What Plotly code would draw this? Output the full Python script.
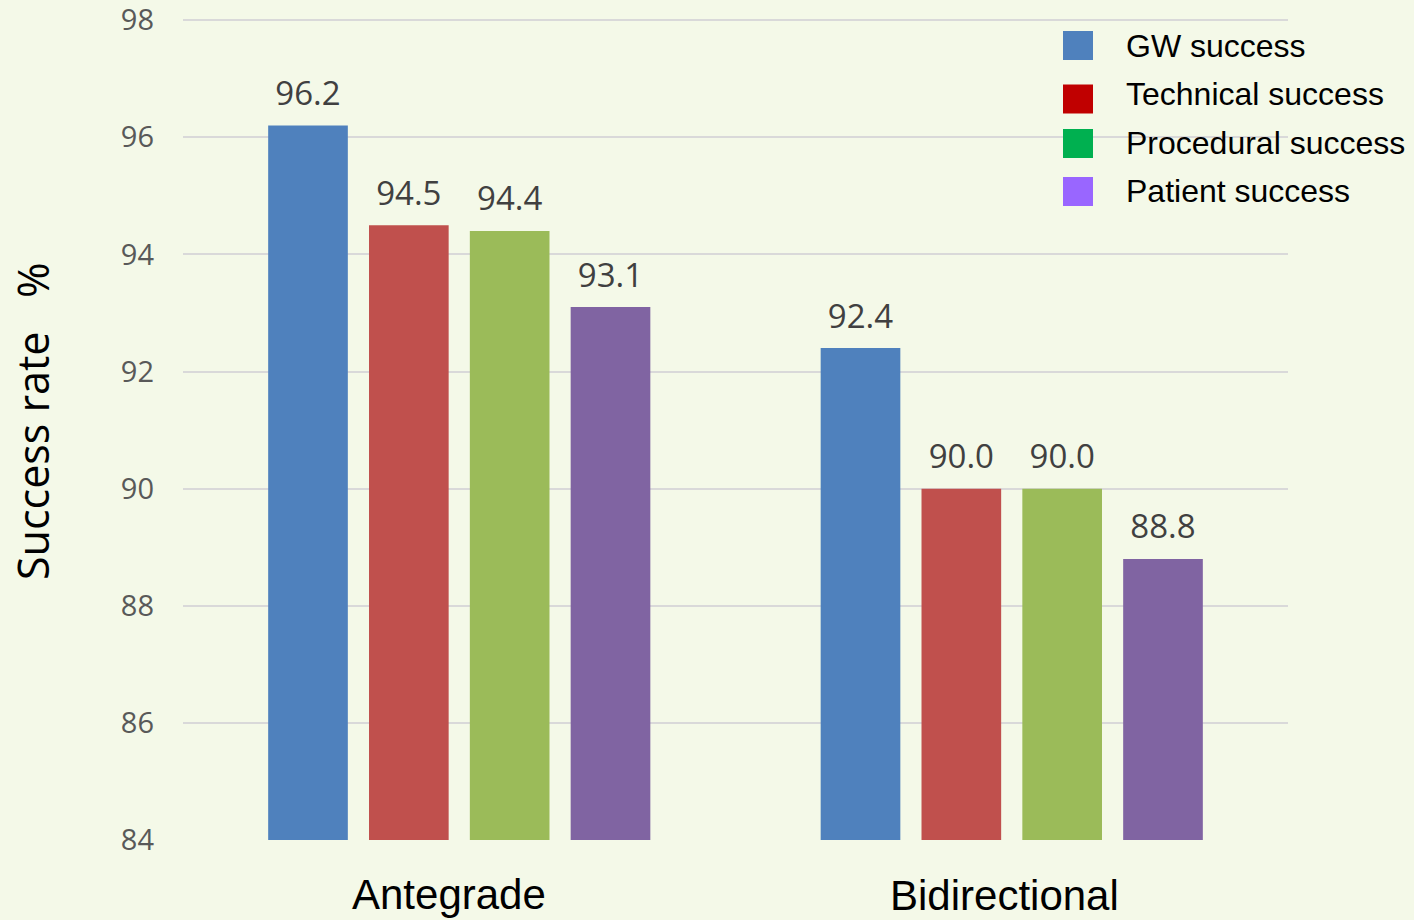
import plotly.graph_objects as go

categories = ["Antegrade", "Bidirectional"]
series_names = ["GW success", "Technical success", "Procedural success", "Patient success"]
gw_success = [96.2, 92.4]
technical_success = [94.5, 90.0]
procedural_success = [94.4, 90.0]
patient_success = [93.1, 88.8]
y_ticks = [84, 86, 88, 90, 92, 94, 96, 98]

bar_colors = ["#4F81BD", "#C0504D", "#9BBB59", "#8064A2"]
legend_colors = ["#4F81BD", "#C00000", "#00B050", "#9966FF"]
series_values = [gw_success, technical_success, procedural_success, patient_success]

W, H = 1414, 920
ML, MR, MT, MB = 183, 126, 19, 80
PW, PH = W - ML - MR, H - MT - MB

fig = go.Figure()
for i, (name, vals, col) in enumerate(zip(series_names, series_values, bar_colors)):
    fig.add_trace(go.Bar(
        x=categories, y=vals, name=name, marker=dict(color=col, line=dict(width=0)),
        offsetgroup=str(i), showlegend=False, hoverinfo="skip",
    ))
for i, (name, vals) in enumerate(zip(series_names, series_values)):
    fig.add_trace(go.Scatter(
        x=categories, y=vals, name=name, mode="markers+text", offsetgroup=str(i),
        marker=dict(size=18, color="rgba(0,0,0,0)"),
        text=[f"{v:.1f}" for v in vals], textposition="top center",
        textfont=dict(family="Open Sans", size=33, color="#404040"),
        cliponaxis=False, showlegend=False,
    ))

shapes = []
annotations = []
legend_y = [45.5, 99, 143.5, 191.5]
text_y = [46, 94, 143, 191]
for i, (name, col) in enumerate(zip(series_names, legend_colors)):
    yc = legend_y[i]
    shapes.append(dict(
        type="rect", xref="paper", yref="paper",
        x0=(1063 - ML) / PW, x1=(1093 - ML) / PW,
        y0=1 - (yc + 14.5 - MT) / PH, y1=1 - (yc - 14.5 - MT) / PH,
        fillcolor=col, line=dict(width=0),
    ))
    annotations.append(dict(
        text=name, xref="paper", yref="paper",
        x=(1124 - ML) / PW, y=1 - (text_y[i] - MT) / PH,
        xanchor="left", yanchor="middle", showarrow=False,
        font=dict(family="Liberation Sans", size=32, color="#000000"),
    ))

cat_y = [894, 896]
cat_shift = [-10, -7]
for i, c in enumerate(categories):
    annotations.append(dict(
        text=c, x=c, xref="x", yref="paper", y=1 - (cat_y[i] - MT) / PH,
        xanchor="center", yanchor="middle", showarrow=False, xshift=cat_shift[i],
        font=dict(family="Liberation Sans", size=42, color="#000000"),
    ))

annotations.append(dict(
    text="Success rate   %", xref="paper", yref="paper",
    x=(32 - ML) / PW, y=1 - (422 - MT) / PH, textangle=-90,
    xanchor="center", yanchor="middle", showarrow=False,
    font=dict(family="Open Sans", size=43, color="#000000"),
))

fig.update_layout(
    width=W, height=H,
    margin=dict(l=ML, r=MR, t=MT, b=MB, autoexpand=False),
    paper_bgcolor="#F4F9E8", plot_bgcolor="#F4F9E8",
    barmode="group", bargap=0.27, bargroupgap=0.21,
    scattermode="group", scattergap=0.27,
    shapes=shapes, annotations=annotations,
    xaxis=dict(showticklabels=False, showgrid=False, zeroline=False, showline=False, automargin=False),
    yaxis=dict(range=[84, 98.02], tickvals=y_ticks, showgrid=True, gridcolor="#D9D9D9", gridwidth=2,
               zeroline=False, showline=False, ticks="", ticklabelstandoff=28,
               ticklabeloverflow="allow", automargin=False,
               tickfont=dict(family="Open Sans", size=29, color="#595959")),
    showlegend=False,
)

fig.write_html("out.html", config={"displayModeBar": False},
               post_script="document.body.style.margin='0';document.body.style.background='#F4F9E8';")
